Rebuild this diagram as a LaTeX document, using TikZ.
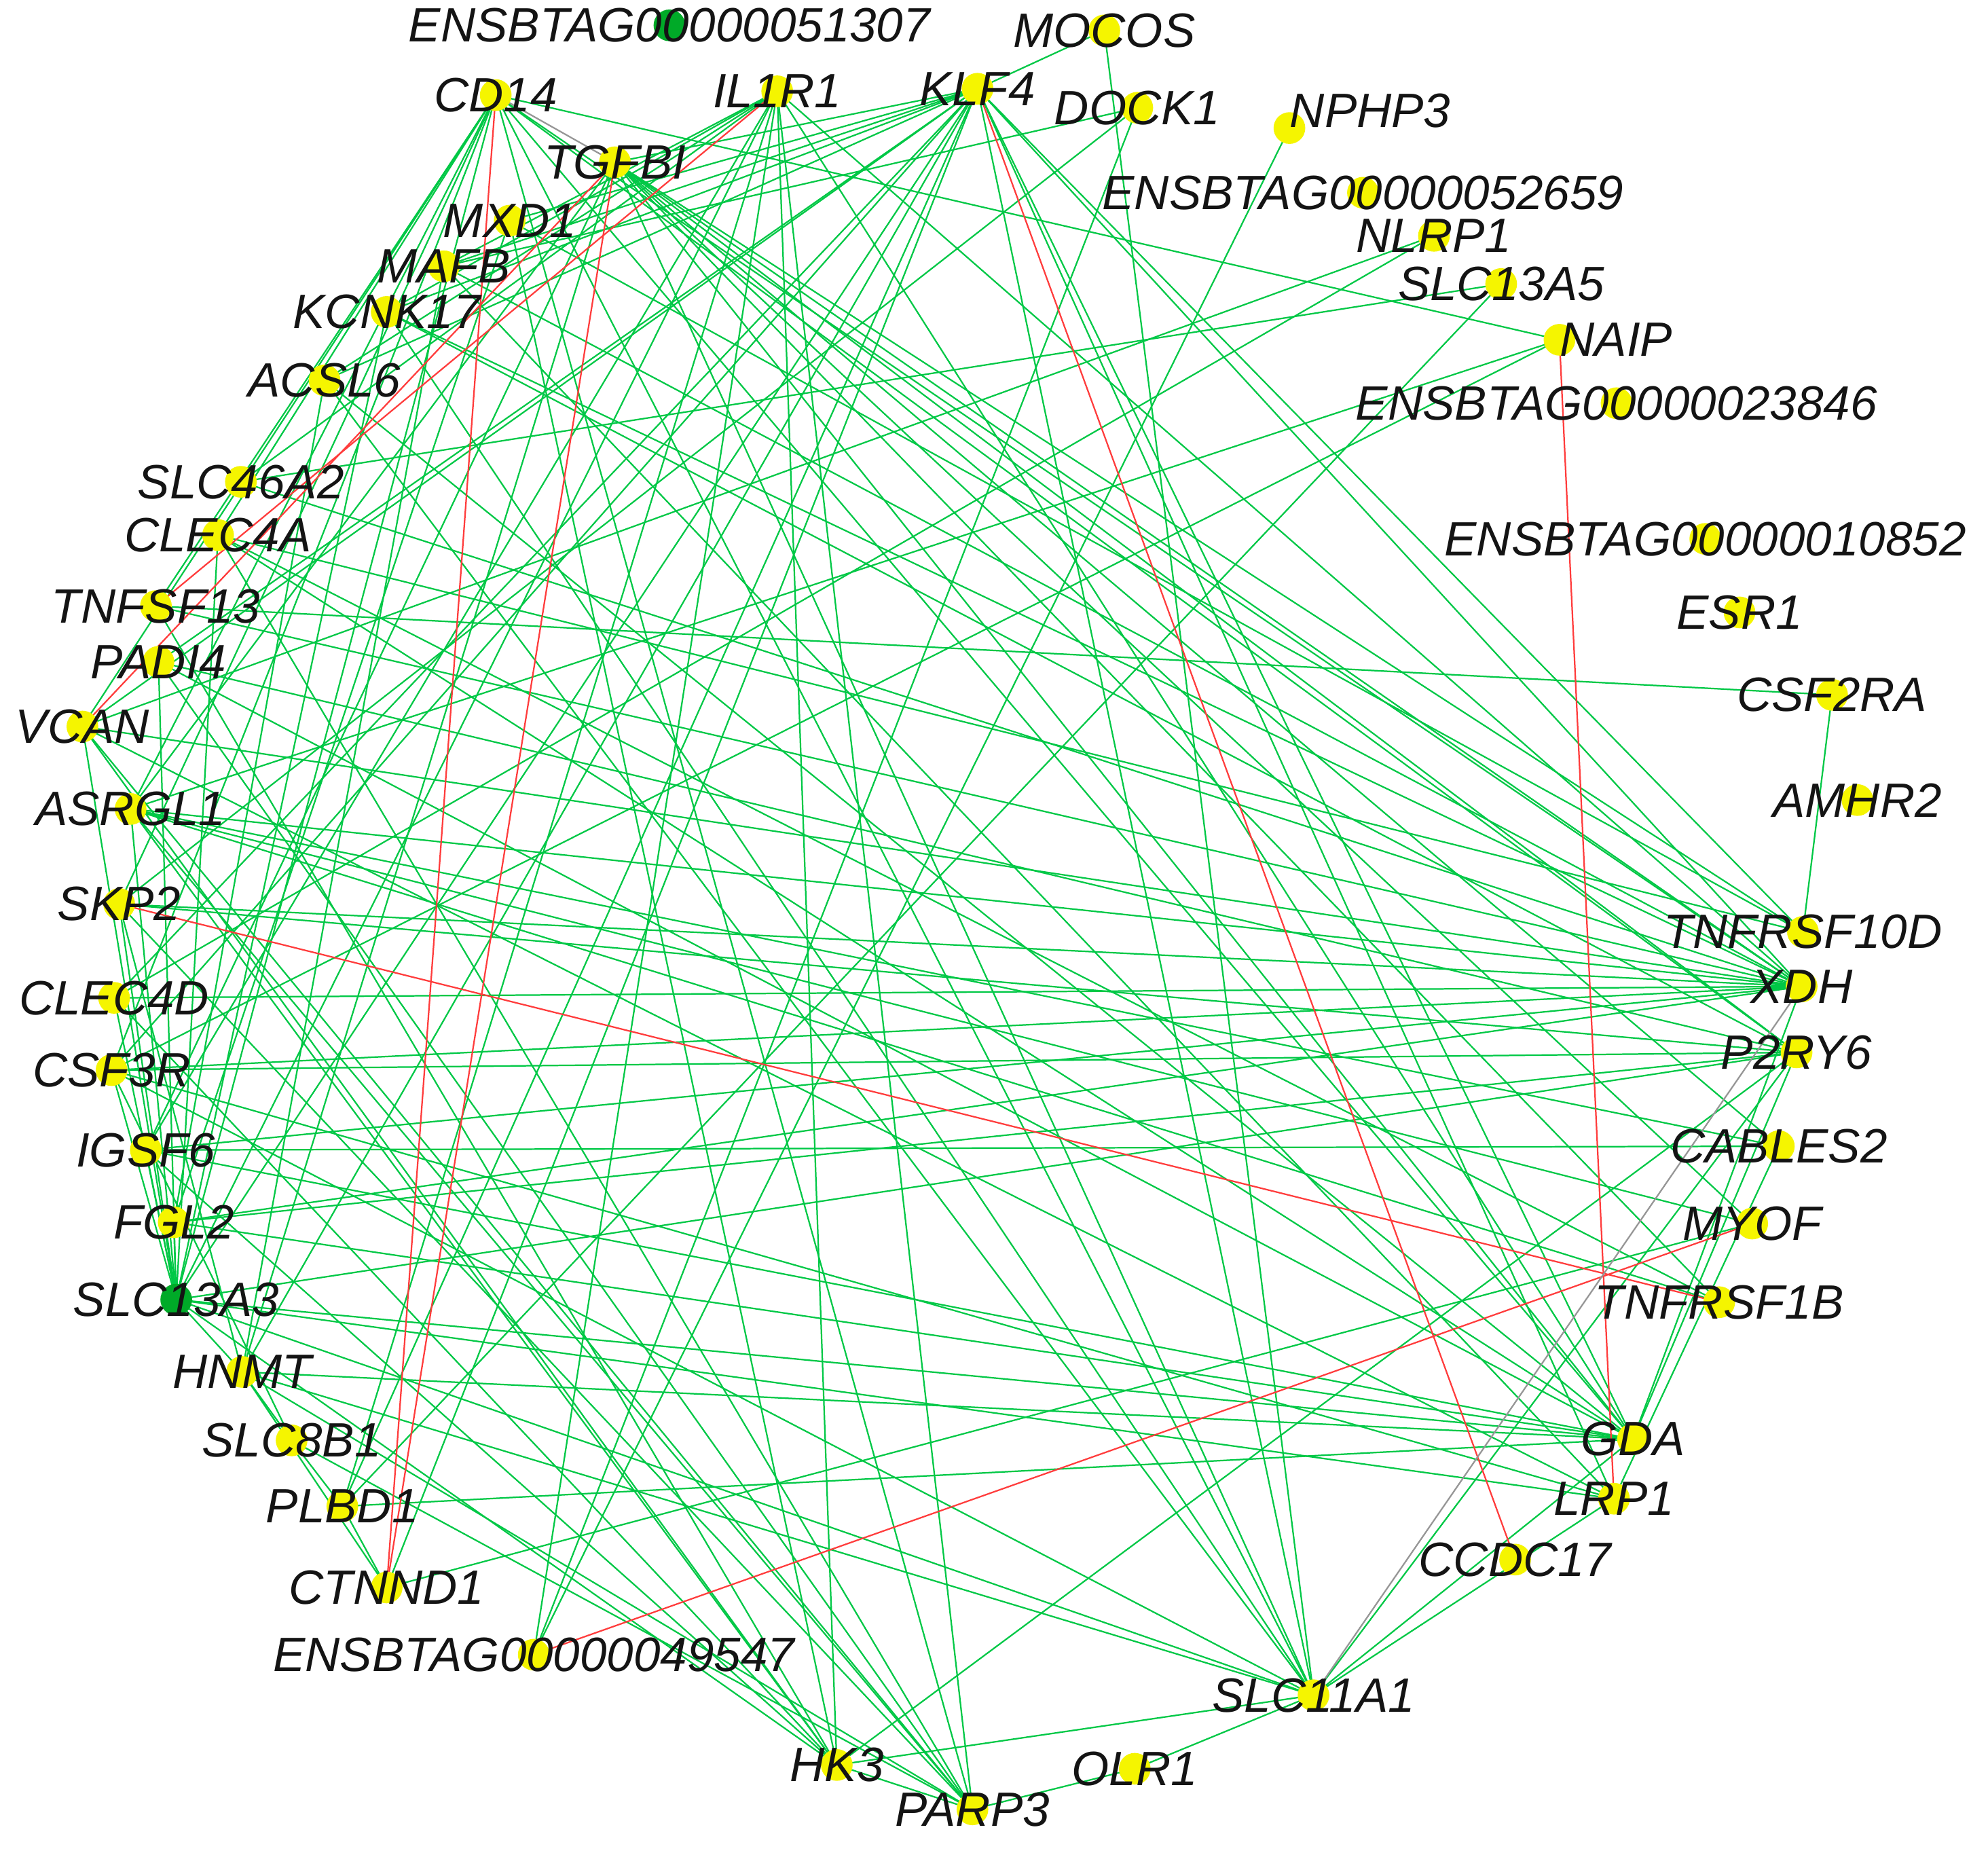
\documentclass[tikz,border=0pt]{standalone}
\usepackage{fontspec}
\setmainfont{Liberation Sans}
\definecolor{eg}{RGB}{0,200,70}
\definecolor{er}{RGB}{255,60,60}
\definecolor{egr}{RGB}{150,150,150}
\definecolor{ny}{RGB}{245,245,0}
\definecolor{ng}{RGB}{0,170,40}
\pgfdeclarelayer{bg}
\pgfsetlayers{bg,main}
\tikzset{
  ydot/.style={circle,fill=ny,minimum size=12.5pt,inner sep=0pt},
  gdot/.style={circle,fill=ng,minimum size=12.5pt,inner sep=0pt},
  lab/.style={font=\fontsize{19}{22}\selectfont\itshape,inner sep=0pt,text=black!92},
  ge/.style={draw=eg,line width=0.6pt},
  re/.style={draw=er,line width=0.6pt},
  gye/.style={draw=egr,line width=0.6pt}
}
\begin{document}
\begin{tikzpicture}[x=0.5pt,y=-0.5pt]
\useasboundingbox (0,0) rectangle (1568,1461);
% dots
\node[gdot] (e51307) at (528,20) {};
\node[ydot] (mocos) at (871,24) {};
\node[ydot] (cd14) at (391,75) {};
\node[ydot] (il1r1) at (613,72) {};
\node[ydot] (klf4) at (771,70) {};
\node[ydot] (dock1) at (897,85) {};
\node[ydot] (nphp3) at (1017,101) {};
\node[ydot] (tgfbi) at (485,128) {};
\node[ydot] (e52659) at (1075,152) {};
\node[ydot] (mxd1) at (402,174) {};
\node[ydot] (nlrp1) at (1131,186) {};
\node[ydot] (mafb) at (350,210) {};
\node[ydot] (slc13a5) at (1184,224) {};
\node[ydot] (kcnk17) at (305,246) {};
\node[ydot] (naip) at (1230,268) {};
\node[ydot] (acsl6) at (256,300) {};
\node[ydot] (e23846) at (1275,318) {};
\node[ydot] (slc46a2) at (190,380) {};
\node[ydot] (clec4a) at (172,422) {};
\node[ydot] (e10852) at (1345,425) {};
\node[ydot] (tnfsf13) at (123,478) {};
\node[ydot] (esr1) at (1372,483) {};
\node[ydot] (padi4) at (125,522) {};
\node[ydot] (csf2ra) at (1445,548) {};
\node[ydot] (vcan) at (65,573) {};
\node[ydot] (amhr2) at (1465,631) {};
\node[ydot] (asrgl1) at (103,638) {};
\node[ydot] (skp2) at (94,713) {};
\node[ydot] (tnfrsf10d) at (1422,735) {};
\node[ydot] (xdh) at (1421,778) {};
\node[ydot] (clec4d) at (90,787) {};
\node[ydot] (p2ry6) at (1417,830) {};
\node[ydot] (csf3r) at (88,844) {};
\node[ydot] (cables2) at (1403,904) {};
\node[ydot] (igsf6) at (115,907) {};
\node[ydot] (myof) at (1382,965) {};
\node[ydot] (fgl2) at (137,964) {};
\node[gdot] (slc13a3) at (139,1025) {};
\node[ydot] (tnfrsf1b) at (1356,1027) {};
\node[ydot] (hnmt) at (191,1082) {};
\node[ydot] (gda) at (1288,1135) {};
\node[ydot] (slc8b1) at (230,1136) {};
\node[ydot] (lrp1) at (1273,1182) {};
\node[ydot] (plbd1) at (270,1188) {};
\node[ydot] (ccdc17) at (1195,1230) {};
\node[ydot] (ctnnd1) at (305,1252) {};
\node[ydot] (e49547) at (421,1305) {};
\node[ydot] (slc11a1) at (1036,1337) {};
\node[ydot] (hk3) at (660,1392) {};
\node[ydot] (olr1) at (895,1395) {};
\node[ydot] (parp3) at (767,1427) {};
% labels
\foreach \n/\t in {e51307/ENSBTAG00000051307, mocos/MOCOS, cd14/CD14, il1r1/IL1R1, klf4/KLF4, dock1/DOCK1, tgfbi/TGFBI, e52659/ENSBTAG00000052659, mxd1/MXD1, nlrp1/NLRP1, mafb/MAFB, slc13a5/SLC13A5, kcnk17/KCNK17, acsl6/ACSL6, e23846/ENSBTAG00000023846, slc46a2/SLC46A2, clec4a/CLEC4A, e10852/ENSBTAG00000010852, tnfsf13/TNFSF13, esr1/ESR1, padi4/PADI4, csf2ra/CSF2RA, vcan/VCAN, amhr2/AMHR2, asrgl1/ASRGL1, skp2/SKP2, tnfrsf10d/TNFRSF10D, xdh/XDH, clec4d/CLEC4D, p2ry6/P2RY6, csf3r/CSF3R, cables2/CABLES2, igsf6/IGSF6, myof/MYOF, fgl2/FGL2, slc13a3/SLC13A3, tnfrsf1b/TNFRSF1B, hnmt/HNMT, gda/GDA, slc8b1/SLC8B1, lrp1/LRP1, plbd1/PLBD1, ccdc17/CCDC17, ctnnd1/CTNND1, e49547/ENSBTAG00000049547, slc11a1/SLC11A1, hk3/HK3, olr1/OLR1, parp3/PARP3}
  \node[lab] (\n-l) at (\n.center) {\t};
\node[lab,anchor=south west] (nphp3-l) at (nphp3.center) {NPHP3};
\node[lab,anchor=west] (naip-l) at (naip.center) {NAIP};
% edges
\begin{pgfonlayer}{bg}
\fill[white] (0,0) rectangle (1568,1461);
\foreach \a/\b in {mocos/klf4, mocos/slc11a1, nphp3/e49547, nlrp1/vcan, nlrp1/clec4d, slc13a5/slc46a2, slc13a5/plbd1, naip/cd14, naip/asrgl1, naip/csf3r, csf2ra/tnfsf13, csf2ra/tnfrsf10d, dock1/mafb, dock1/skp2, dock1/e49547,
klf4/tgfbi, klf4/kcnk17, klf4/acsl6, klf4/padi4, klf4/vcan, klf4/clec4d, klf4/hnmt, klf4/plbd1, klf4/ctnnd1, klf4/gda, klf4/xdh, klf4/tnfrsf10d, klf4/lrp1, klf4/slc11a1, klf4/mxd1, klf4/mafb, klf4/slc13a3, klf4/csf3r,
il1r1/hk3, il1r1/parp3, il1r1/xdh, il1r1/plbd1, il1r1/e49547, il1r1/kcnk17, il1r1/slc13a3, il1r1/mafb, il1r1/gda, il1r1/acsl6, il1r1/igsf6,
cd14/clec4a, cd14/vcan, cd14/asrgl1, cd14/skp2, cd14/csf3r, cd14/slc13a3, cd14/slc11a1, cd14/parp3, cd14/xdh, cd14/p2ry6, cd14/gda, cd14/tnfsf13,
tgfbi/tnfrsf1b, tgfbi/myof, tgfbi/cables2, tgfbi/p2ry6, tgfbi/xdh, tgfbi/tnfrsf10d, tgfbi/gda, tgfbi/slc11a1, tgfbi/asrgl1, tgfbi/igsf6, tgfbi/hnmt,
mxd1/tnfrsf10d, mxd1/fgl2, mxd1/hk3, mafb/xdh, mafb/hnmt, mafb/lrp1, kcnk17/xdh, kcnk17/slc11a1, kcnk17/slc13a3, kcnk17/p2ry6, acsl6/slc11a1, acsl6/gda, acsl6/fgl2,
slc46a2/xdh, slc46a2/il1r1, clec4a/gda, clec4a/tnfrsf1b, clec4a/parp3, clec4a/slc13a3, clec4a/tnfrsf10d, tnfsf13/xdh, tnfsf13/hk3, padi4/gda, padi4/parp3, padi4/slc13a3, padi4/p2ry6,
vcan/xdh, vcan/slc13a3, vcan/parp3, vcan/hk3, vcan/lrp1, asrgl1/xdh, asrgl1/slc13a3, asrgl1/hk3, asrgl1/tnfrsf1b, asrgl1/cables2, asrgl1/myof, asrgl1/parp3,
skp2/xdh, skp2/p2ry6, skp2/parp3, skp2/slc13a3, skp2/hnmt, clec4d/xdh, clec4d/slc13a3, clec4d/hk3, csf3r/xdh, csf3r/p2ry6, csf3r/slc11a1, csf3r/lrp1, csf3r/slc13a3, csf3r/slc8b1,
igsf6/xdh, igsf6/cables2, igsf6/hk3, igsf6/slc13a3, igsf6/gda, fgl2/xdh, fgl2/p2ry6, fgl2/gda, fgl2/slc13a3, slc13a3/p2ry6, slc13a3/gda, slc13a3/slc11a1, slc13a3/hk3, slc13a3/lrp1, slc13a3/hnmt,
hnmt/gda, hnmt/parp3, hnmt/slc11a1, hnmt/slc8b1, slc8b1/plbd1, slc8b1/parp3, plbd1/gda, plbd1/ctnnd1, ctnnd1/myof, ctnnd1/hnmt,
xdh/gda, p2ry6/gda, p2ry6/slc11a1, p2ry6/hk3, lrp1/slc11a1, lrp1/cables2, gda/slc11a1, olr1/slc11a1, olr1/parp3, hk3/parp3, hk3/slc11a1}
  \draw[ge] (\a.center) -- (\b.center);
\foreach \a/\b in {cd14/ctnnd1, tgfbi/ctnnd1, il1r1/tnfsf13, tgfbi/vcan, klf4/ccdc17, naip/lrp1, skp2/tnfrsf1b, e49547/myof}
  \draw[re] (\a.center) -- (\b.center);
\foreach \a/\b in {cd14/tgfbi, xdh/slc11a1}
  \draw[gye] (\a.center) -- (\b.center);
\end{pgfonlayer}
\end{tikzpicture}
\end{document}
